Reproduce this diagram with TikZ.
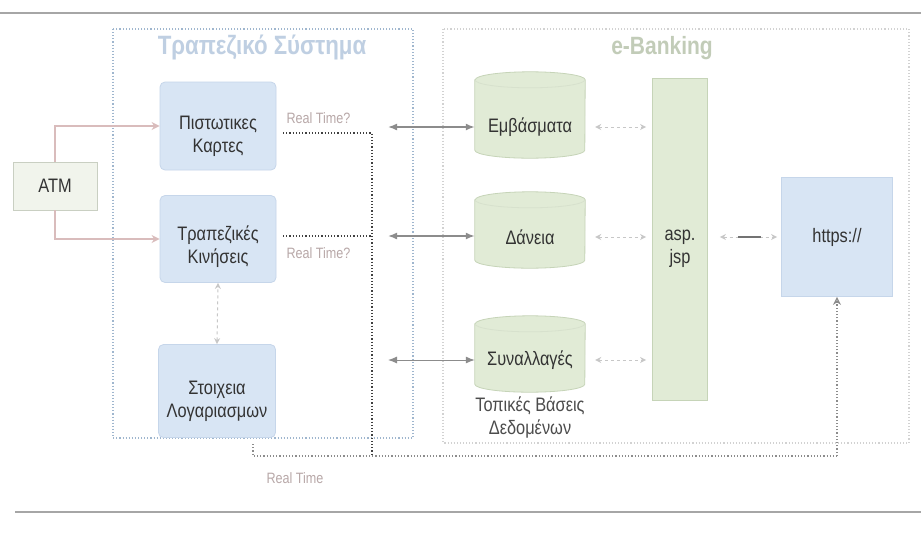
\documentclass[tikz,border=0pt]{standalone}
\usepackage{fontspec}
\setmainfont{Liberation Sans}[FakeStretch=0.84]
\usetikzlibrary{shapes.geometric,arrows.meta,calc}

\definecolor{bluefill}{HTML}{D8E5F4}
\definecolor{blueedge}{HTML}{C6D6EA}
\definecolor{greenfill}{HTML}{E1EBD6}
\definecolor{greenedge}{HTML}{C6D4B8}
\definecolor{atmfill}{HTML}{F1F4EC}
\definecolor{atmedge}{HTML}{C9CFC2}
\definecolor{inktext}{HTML}{333333}
\definecolor{pinkline}{HTML}{D9BCBC}
\definecolor{rtlabel}{HTML}{B8A8A8}
\definecolor{frameblue}{HTML}{9FB6CE}
\definecolor{framegray}{HTML}{D2D2D2}
\definecolor{titleblue}{HTML}{BFCFE2}
\definecolor{titlegreen}{HTML}{C2CCB8}

\tikzset{
  lbl/.style={font=\fontsize{19.5}{23}\selectfont, text=inktext, align=center},
  bluebox/.style={draw=blueedge, fill=bluefill, rounded corners=5pt, line width=0.8pt},
  drumslot/.style={draw=none, minimum width=110pt},
  drum/.style={draw=greenedge, fill=greenfill, line width=0.8pt},
  sysframe/.style={dotted, line width=1.1pt},
  rtdots/.style={dotted, line width=1.2pt, draw=black!75},
  rtlight/.style={dotted, line width=1.2pt, draw=black!45},
  bigarrow/.style={{Latex[length=9pt,width=7pt]}-{Latex[length=9pt,width=7pt]}, draw=black!45, line width=1.6pt},
  smallarrow/.style={{Stealth[open,length=6pt,width=6pt]}-{Stealth[open,length=6pt,width=6pt]}, draw=black!22, line width=1pt, dashed},
  atmline/.style={draw=pinkline, line width=1.3pt, -{Stealth[open,length=8pt,width=8pt]}},
  faintlbl/.style={font=\fontsize{15}{17}\selectfont, text=rtlabel},
  titletext/.style={font=\bfseries\fontsize{25}{28}\selectfont}
}

% database drum drawn over an (invisible) named node
\newcommand\drawdrum[1]{%
  \filldraw[drum] ($(#1.north west)+(0,8)$) -- ($(#1.south west)+(0,-8)$)
    arc[start angle=180, end angle=360, x radius=55pt, y radius=8pt]
    -- ($(#1.north east)+(0,8)$)
    arc[start angle=0, end angle=180, x radius=55pt, y radius=8pt] -- cycle;
  \draw[drum, fill=none, draw=greenedge!70] ($(#1.north west)+(0,8)$)
    arc[start angle=180, end angle=360, x radius=55pt, y radius=8pt];
}

\begin{document}
\begin{tikzpicture}[x=1pt,y=-1pt]
\useasboundingbox (0,0) rectangle (921,547);
\fill[white] (0,0) rectangle (921,547);

% page rules above and below the figure
\draw[black!35, line width=1.4pt] (0,13) -- (921,13);
\draw[black!35, line width=1.4pt] (15,512) -- (921,512);

% the two system frames
\draw[sysframe, draw=frameblue] (113,29) rectangle (413,438);
\draw[sysframe, draw=framegray] (443,29) rectangle (909,443);
\node[titletext, font=\bfseries\fontsize{26.5}{28}\selectfont, text=titleblue] at (262,47) {Τραπεζικό Σύστημα};
\node[titletext, text=titlegreen] at (662,48) {e-Banking};

% ATM
\node[draw=atmedge, fill=atmfill, line width=0.8pt, minimum width=84pt, minimum height=48pt, lbl] (atm) at (55,186) {ATM};

% bank-side modules
\node[bluebox, minimum width=116pt, minimum height=88pt] (cards) at (218,126) {};
\node[lbl] at ($(cards.center)+(0,10)$) {Πιστωτικες\\Καρτες};
\node[bluebox, minimum width=116pt, minimum height=87pt] (moves) at (218,239) {};
\node[lbl] at ($(moves.center)+(0,8)$) {Τραπεζικές\\Κινήσεις};
\node[bluebox, minimum width=117pt, minimum height=93pt] (accts) at (217,391) {};
\node[lbl] at ($(accts.center)+(0,10)$) {Στοιχεια\\Λογαριασμων};

% ATM feeds
\draw[atmline] (atm.north) |- (cards.west);
\draw[atmline] (atm.south) |- (moves.west);

% account data <-> transactions
\draw[smallarrow] (accts.north) -- (moves.south);

% local databases
\node[drumslot, minimum height=86pt] (remit) at (530,115) {};
\node[drumslot, minimum height=76pt] (loans) at (530,230) {};
\node[drumslot, minimum height=76pt] (trans) at (530,354) {};
\drawdrum{remit}
\drawdrum{loans}
\drawdrum{trans}
\node[lbl] at (530,127) {Εμβάσματα};
\node[lbl] at (530,237) {Δάνεια};
\node[lbl] at (530,360) {Συναλλαγές};
\node[lbl, text=black!70] at (530,418) {Τοπικές Βάσεις\\Δεδομένων};

% web tier
\node[draw=greenedge, fill=greenfill, line width=0.8pt, minimum width=55pt, minimum height=322pt] (asp) at (680,239) {};
\node[lbl] at (680,249) {asp.\\jsp};
\node[draw=blueedge, fill=bluefill, line width=0.8pt, minimum width=111pt, minimum height=119pt, lbl] (web) at (837,237) {https://};

% database <-> web tier
\draw[smallarrow] ($(remit.east |- 0,127)+(10,0)$) -- ($(asp.west |- 0,127)+(-6,0)$);
\draw[smallarrow] ($(loans.east |- 0,237)+(10,0)$) -- ($(asp.west |- 0,237)+(-6,0)$);
\draw[smallarrow] ($(trans.east |- 0,360)+(10,0)$) -- ($(asp.west |- 0,360)+(-6,0)$);
\draw[smallarrow] ($(asp.east |- web.west)+(12,0)$) -- ($(web.west)+(-4,0)$);
\draw[black!55, line width=1.2pt] ($(asp.east |- web.west)+(30,0)$) -- ($(web.west)+(-20,0)$);

% bank <-> databases
\draw[bigarrow] (388,127) -- (remit.west |- 0,127);
\draw[bigarrow] (388,236) -- (loans.west |- 0,236);
\draw[bigarrow, line width=1pt] (388,360) -- (trans.west |- 0,360);

% "Real Time?" links
\coordinate (rtA) at (283,133);
\coordinate (rtB) at (283,236);
\coordinate (rtC) at (372,133);
\coordinate (rtD) at (372,236);
\coordinate (rtE) at (372,456);
\draw[rtdots] (rtA) -- (rtC) -- (rtE);
\draw[rtdots] (rtB) -- (rtD);
\node[faintlbl, anchor=west] at (283,118) {Real Time?};
\node[faintlbl, anchor=west] at (283,253) {Real Time?};

% "Real Time" link to the web front end
\coordinate (rtF) at (253,444);
\coordinate (rtG) at (253,456);
\coordinate (rtH) at (837,456);
\draw[rtlight] (rtF) -- (rtG) -- (rtE) -- (rtH);
\draw[rtlight, -{Stealth[open,length=8pt,width=8pt]}] (rtH) -- (web.south);
\node[faintlbl, anchor=west] at (263,478) {Real Time};
\end{tikzpicture}
\end{document}
